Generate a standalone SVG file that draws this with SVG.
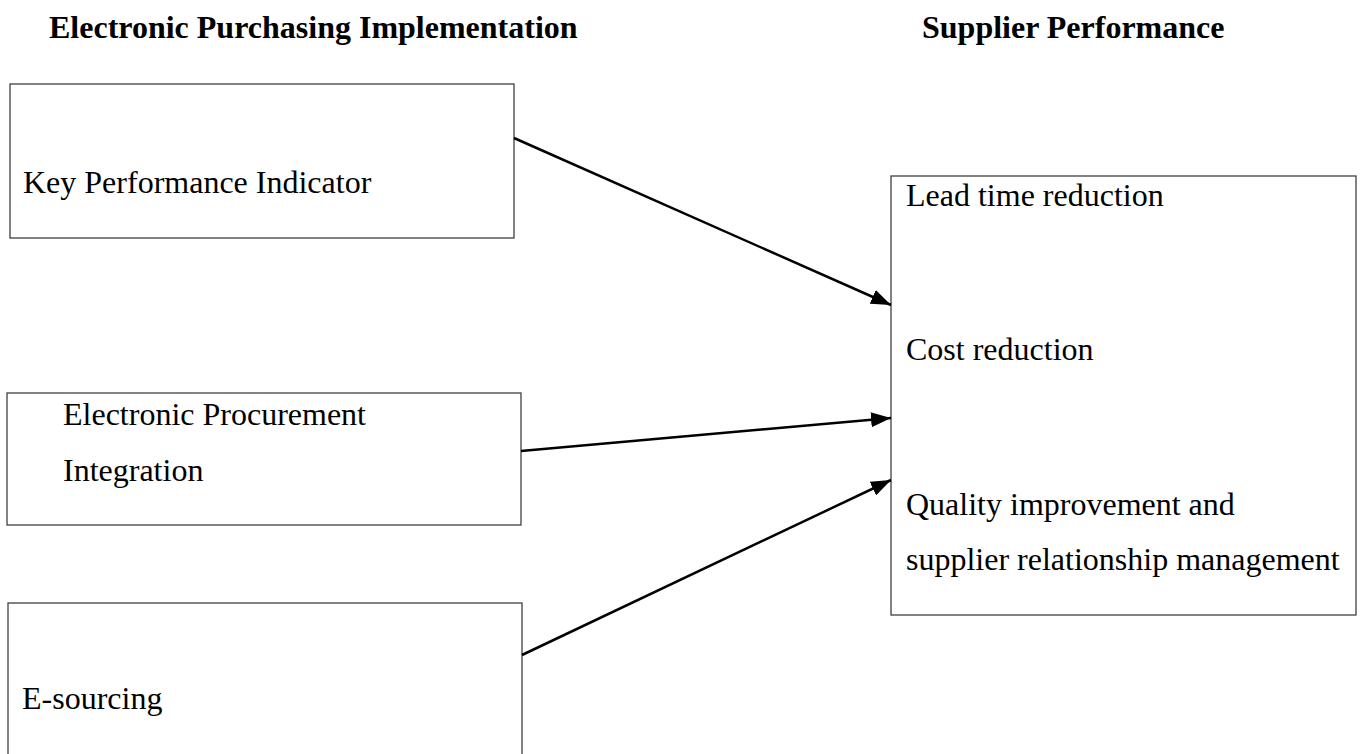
<svg xmlns="http://www.w3.org/2000/svg" width="1363" height="754" viewBox="0 0 1363 754">
  <style>
    .box { fill: #ffffff; stroke: #404040; stroke-width: 1.3; }
    .lbl { font-family: "Liberation Serif", "Times New Roman", serif; font-size: 32px; fill: #000000; }
    .ttl { font-family: "Liberation Serif", "Times New Roman", serif; font-size: 32px; font-weight: bold; fill: #000000; }
    .conn { stroke: #000000; stroke-width: 2.5; fill: none; marker-end: url(#arrow); }
  </style>
  <defs>
    <marker id="arrow" markerWidth="8" markerHeight="6" refX="8" refY="3" orient="auto" markerUnits="strokeWidth">
      <path d="M0,0 L8,3 L0,6 Z" fill="#000000"/>
    </marker>
  </defs>
  <rect width="1363" height="754" fill="#ffffff"/>

  <g id="titles">
    <text class="ttl" x="49" y="38">Electronic Purchasing Implementation</text>
    <text class="ttl" x="922" y="38">Supplier Performance</text>
  </g>

  <g id="node-kpi">
    <rect class="box" x="10" y="84" width="504" height="154"/>
    <text class="lbl" x="23" y="193">Key Performance Indicator</text>
  </g>

  <g id="node-epi">
    <rect class="box" x="7" y="393" width="514" height="132"/>
    <text class="lbl" x="63" y="425">Electronic Procurement</text>
    <text class="lbl" x="63" y="481">Integration</text>
  </g>

  <g id="node-esourcing">
    <rect class="box" x="8" y="603" width="514" height="160"/>
    <text class="lbl" x="22" y="709">E-sourcing</text>
  </g>

  <g id="node-supplier">
    <rect class="box" x="891" y="176" width="465" height="439"/>
    <text class="lbl" x="906" y="206">Lead time reduction</text>
    <text class="lbl" x="906" y="360">Cost reduction</text>
    <text class="lbl" x="906" y="515">Quality improvement and</text>
    <text class="lbl" x="906" y="570">supplier relationship management</text>
  </g>

  <g id="connectors">
    <line class="conn" x1="514" y1="138" x2="891" y2="305"/>
    <line class="conn" x1="521" y1="451" x2="891" y2="418"/>
    <line class="conn" x1="522" y1="655" x2="891" y2="480"/>
  </g>
</svg>
